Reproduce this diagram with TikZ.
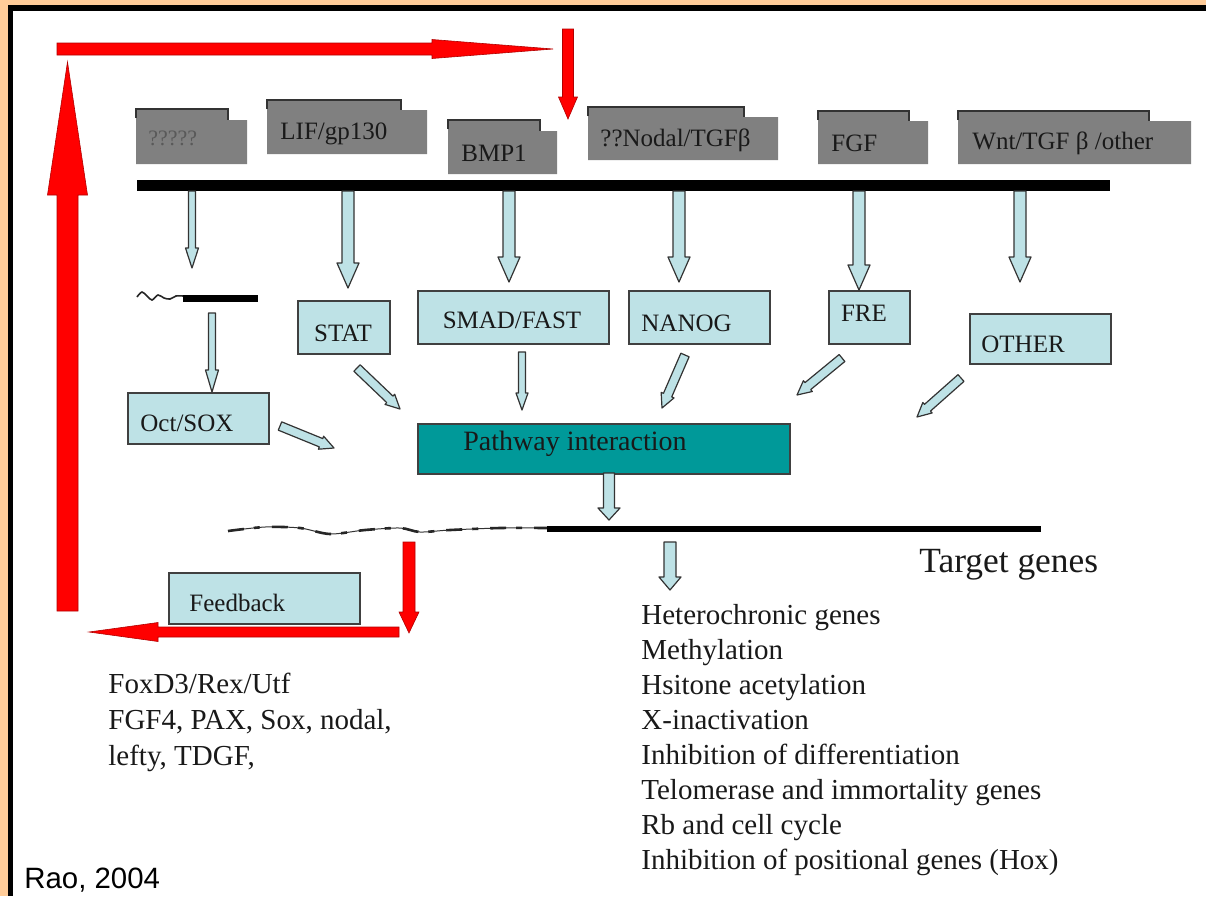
\documentclass[tikz,border=0pt]{standalone}
\usepackage{fontspec}
\setmainfont{Liberation Serif}
\newfontfamily\arialf{Liberation Sans}
\definecolor{orangebg}{RGB}{255,204,153}
\definecolor{lblue}{RGB}{190,226,230}
\definecolor{tealbox}{RGB}{0,153,153}
\definecolor{rgray}{RGB}{128,128,128}
\definecolor{rred}{RGB}{255,0,0}
\newcommand{\blockarr}[6]{%
  \pgfpointdiff{\pgfpointanchor{#2}{center}}{\pgfpointanchor{#3}{center}}%
  \pgfgetlastxy{\bax}{\bay}%
  \pgfmathsetmacro{\balen}{veclen(\bax,\bay)}%
  \pgfmathsetmacro{\baang}{atan2(\bay,\bax)}%
  \pgfmathsetmacro{\babase}{\balen-#6}%
  \draw[#1,shift={(#2)},rotate=\baang] (0pt,#4pt) -- (\babase pt,#4pt) -- (\babase pt,#5pt) -- (\balen pt,0pt) -- (\babase pt,-#5pt) -- (\babase pt,-#4pt) -- (0pt,-#4pt) -- cycle;}
\tikzset{
  lbox/.style={draw=black!75, line width=0.9pt, fill=lblue, inner sep=0pt, anchor=north west},
  lbl/.style={inner sep=0pt, text=black!90, font=\fontsize{12.5}{15}\selectfont},
  rlbl/.style={inner sep=0pt, text=black!90, anchor=west, font=\fontsize{12.5}{15}\selectfont},
  listtxt/.style={inner sep=0pt, anchor=base west, text=black!90, font=\fontsize{14.5}{17.5}\selectfont},
  bluearr/.style={fill=lblue, draw=black!80, line width=0.6pt, line join=round},
  redarr/.style={fill=rred, draw=red!70!black, line width=0.3pt},
  rec/.style={fill=rgray},
  rectop/.style={draw=black!80, line width=1pt}
}
\begin{document}
\begin{tikzpicture}[x=0.5pt,y=-0.5pt]
\useasboundingbox (0,0) rectangle (1206,896);
% background and frame
\fill[orangebg] (0,0) rectangle (1206,896);
\fill[black] (8,5) rectangle (1206,11);
\fill[black] (8,5) rectangle (13,896);
\fill[white] (13,11) rectangle (1206,896);

% receptors
\foreach \xa/\xb/\xs/\yt/\ys/\yb in {136/247/228/109/120/164, 267/427/401/100/110/154, 448/557/540/120/131/174, 588/778/744/107/117/160, 818/928/909/111/121/164, 958/1191/1149/111/121/164}{
  \fill[rec] (\xa,\yt) -- (\xs,\yt) -- (\xs,\ys) -- (\xb,\ys) -- (\xb,\yb) -- (\xa,\yb) -- cycle;
  \draw[rectop] (\xa,\yt+9) -- (\xa,\yt) -- (\xs,\yt) -- (\xs,\ys);
}
\node[rlbl, text=black!65, font=\fontsize{11}{13}\selectfont] (r1) at (148,138) {?????};
\node[rlbl] (r2) at (280,134) {LIF/gp130};
\node[rlbl] (r3) at (461,153) {BMP1};
\node[rlbl] (r4) at (600,140) {??Nodal/TGFβ};
\node[rlbl] (r5) at (831,143) {FGF};
\node[rlbl] (r6) at (972,143) {Wnt/TGF β /other};

% membrane
\node[fill=black, inner sep=0pt, minimum width=486.5pt, minimum height=5.5pt, anchor=north west] (membrane) at (137,180) {};

% boxes
\node[lbox, minimum width=46pt, minimum height=26.5pt] (stat) at (297,300) {};
\node[lbl] (statt) at (343,333) {STAT};
\node[lbox, minimum width=95.5pt, minimum height=26.5pt] (smad) at (417,290) {};
\node[lbl] (smadt) at (512,320) {SMAD/FAST};
\node[lbox, minimum width=70.5pt, minimum height=26.5pt] (nanog) at (628,290) {};
\node[rlbl] (nanogt) at (641,323) {NANOG};
\node[lbox, minimum width=40.5pt, minimum height=26.5pt] (fre) at (828,290) {};
\node[lbl] (fret) at (864,313) {FRE};
\node[lbox, minimum width=70.5pt, minimum height=25pt] (other) at (969,313) {};
\node[rlbl] (othert) at (981,344) {OTHER};
\node[lbox, minimum width=70.5pt, minimum height=25.5pt] (oct) at (127,392) {};
\node[rlbl] (octt) at (140,423) {Oct/SOX};
\node[lbox, fill=tealbox, minimum width=186pt, minimum height=25pt] (path) at (417,423) {};
\node[rlbl, font=\fontsize{14}{16}\selectfont] (patht) at (463,444) {Pathway interaction};
\node[lbox, minimum width=95.5pt, minimum height=25.5pt] (feedback) at (168,572) {};
\node[rlbl] (feedbackt) at (189,603) {Feedback};

% gene near arrow 1
\draw[line width=0.8pt, black!85] plot[smooth, tension=0.6] coordinates {(137,297) (142,292) (147,296) (152,300) (158,295) (164,298) (170,299) (176,296) (183,296)};
\draw[line width=3.5pt] (183,298) -- (258,298);

% target gene line
\draw[line width=0.5pt, black!80] plot[smooth, tension=0.5] coordinates {(228,531) (265,527) (300,528) (330,534) (365,530) (400,528) (420,532) (450,530) (500,528) (547,528)};
\draw[line width=1.3pt, black!85, dash pattern=on 8pt off 5pt on 3pt off 6pt] plot[smooth, tension=0.5] coordinates {(228,531) (265,527) (300,528) (330,534) (365,530) (400,528) (420,532) (450,530) (500,528) (547,528)};
\draw[line width=2.6pt] (547,529) -- (1041,529);
\node[inner sep=0pt, anchor=base west, font=\fontsize{17.7}{21}\selectfont, text=black!90] (target) at (919,572) {Target genes};

% coordinates for arrows
\coordinate (a1s) at (192,191); \coordinate (a1e) at (192,268);
\coordinate (a2s) at (348,191); \coordinate (a2e) at (348,288);
\coordinate (a3s) at (509,191); \coordinate (a3e) at (509,282);
\coordinate (a4s) at (679,191); \coordinate (a4e) at (679,282);
\coordinate (a5s) at (859,191); \coordinate (a5e) at (859,290);
\coordinate (a6s) at (1020,191); \coordinate (a6e) at (1020,282);
\coordinate (o1s) at (212,313); \coordinate (o1e) at (212,392);
\coordinate (d1s) at (357,368); \coordinate (d1e) at (400,409);
\coordinate (d2s) at (280,426); \coordinate (d2e) at (334,448);
\coordinate (d3s) at (522,352); \coordinate (d3e) at (522,410);
\coordinate (d4s) at (685,355); \coordinate (d4e) at (662,408);
\coordinate (d5s) at (842,358); \coordinate (d5e) at (797,395);
\coordinate (d6s) at (961,378); \coordinate (d6e) at (917,417);
\coordinate (ps) at (609,473); \coordinate (pe) at (609,520);
\coordinate (ts) at (670,542); \coordinate (te) at (670,590);

\blockarr{bluearr}{a1s}{a1e}{1.75}{3.25}{10}
\blockarr{bluearr}{a2s}{a2e}{3}{5.5}{12.5}
\blockarr{bluearr}{a3s}{a3e}{3}{5.5}{12.5}
\blockarr{bluearr}{a4s}{a4e}{3}{5.5}{12.5}
\blockarr{bluearr}{a5s}{a5e}{3}{5.5}{12.5}
\blockarr{bluearr}{a6s}{a6e}{3}{5.5}{12.5}
\blockarr{bluearr}{o1s}{o1e}{1.75}{3.25}{11}
\blockarr{bluearr}{d1s}{d1e}{2.25}{3.5}{7}
\blockarr{bluearr}{d2s}{d2e}{2.25}{3.5}{7}
\blockarr{bluearr}{d3s}{d3e}{1.75}{3}{8.5}
\blockarr{bluearr}{d4s}{d4e}{2.25}{3.5}{7}
\blockarr{bluearr}{d5s}{d5e}{2.25}{3.5}{7}
\blockarr{bluearr}{d6s}{d6e}{2.25}{3.5}{7}
\blockarr{bluearr}{ps}{pe}{2.75}{5.5}{6}
\blockarr{bluearr}{ts}{te}{3}{5.5}{6.5}

% red loop arrows
\coordinate (rt1) at (57,49); \coordinate (rt2) at (553,49);
\coordinate (rd1) at (568,29); \coordinate (rd2) at (568,119);
\coordinate (ru1) at (67.5,611); \coordinate (ru2) at (67.5,62);
\coordinate (rf1) at (409,542); \coordinate (rf2) at (409,633);
\coordinate (rl1) at (399,632); \coordinate (rl2) at (89,632);
\blockarr{redarr}{rt1}{rt2}{3}{4.75}{60.5}
\blockarr{redarr}{rd1}{rd2}{2.75}{4.75}{11}
\blockarr{redarr}{ru1}{ru2}{5.25}{10}{66.5}
\blockarr{redarr}{rf1}{rf2}{3}{5}{10.5}
\blockarr{redarr}{rl1}{rl2}{2.5}{4.75}{34.5}

% feedback genes
\node[listtxt] (f1) at (108,693) {FoxD3/Rex/Utf};
\node[listtxt] (f2) at (108,729) {FGF4, PAX, Sox, nodal,};
\node[listtxt] (f3) at (108,765) {lefty, TDGF,};

% target gene list
\node[listtxt] (t1) at (641,624) {Heterochronic genes};
\node[listtxt] (t2) at (641,659) {Methylation};
\node[listtxt] (t3) at (641,694) {Hsitone acetylation};
\node[listtxt] (t4) at (641,729) {X-inactivation};
\node[listtxt] (t5) at (641,764) {Inhibition of differentiation};
\node[listtxt] (t6) at (641,799) {Telomerase and immortality genes};
\node[listtxt] (t7) at (641,834) {Rb and cell cycle};
\node[listtxt] (t8) at (641,869) {Inhibition of positional genes (Hox)};

\node[inner sep=0pt, anchor=base west, font=\arialf\fontsize{14.7}{17}\selectfont] (rao) at (24,888) {Rao, 2004};
\end{tikzpicture}
\end{document}
